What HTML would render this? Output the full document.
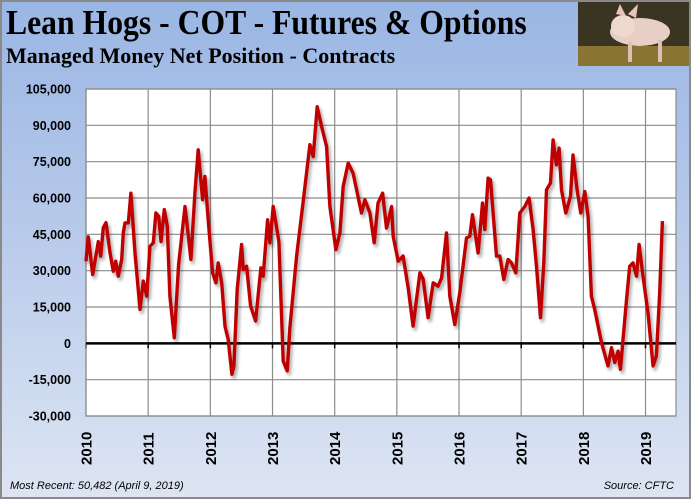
<!DOCTYPE html>
<html><head><meta charset="utf-8"><style>
html,body{margin:0;padding:0;}
body{width:691px;height:499px;overflow:hidden;font-family:"Liberation Sans",sans-serif;}
#frame{position:absolute;left:0;top:0;width:687px;height:495px;border:2px solid #8a8a8a;background:linear-gradient(#9ab6e4 0%,#b7c9ea 45%,#dde5f3 100%);}
.t{position:absolute;font-family:"Liberation Serif",serif;font-weight:bold;color:#000;white-space:nowrap;}
</style></head><body>
<div id="frame"></div>
<div class="t" style="left:6px;top:3px;font-size:35px;transform:scaleX(0.905);transform-origin:left;">Lean Hogs - COT - Futures &amp; Options</div>
<div class="t" style="left:6px;top:43px;font-size:22px;transform:scaleX(1.0);transform-origin:left;">Managed Money Net Position - Contracts</div>
<svg style="position:absolute;left:578px;top:2px" width="111" height="64">
<rect width="111" height="64" fill="#3a3522"/>
<rect y="44" width="111" height="20" fill="#8a7434"/>
<ellipse cx="62" cy="30" rx="30" ry="14" fill="#e8cfc6"/>
<ellipse cx="45" cy="24" rx="12" ry="11" fill="#efd8d0"/>
<polygon points="38,12 42,2 48,14" fill="#e6c4bb"/>
<polygon points="50,12 60,2 58,16" fill="#e6c4bb"/>
<rect x="50" y="40" width="4" height="20" fill="#dcbfb5"/><rect x="80" y="38" width="4" height="22" fill="#dcbfb5"/>
</svg>
<svg id="chart" width="691" height="499" style="position:absolute;left:0;top:0">
<defs><filter id="sh" x="-5%" y="-5%" width="110%" height="110%"><feGaussianBlur in="SourceAlpha" stdDeviation="1.5"/><feOffset dx="2" dy="3" result="b"/><feFlood flood-color="#000" flood-opacity="0.35"/><feComposite in2="b" operator="in"/><feMerge><feMergeNode/><feMergeNode in="SourceGraphic"/></feMerge></filter></defs>
</svg>
<div class="t" style="left:10px;top:480px;font-size:11px;font-style:italic;font-weight:normal;font-family:'Liberation Sans',sans-serif;">Most Recent: 50,482 (April 9, 2019)</div>
<div class="t" style="right:17px;top:480px;font-size:11px;font-style:italic;font-weight:normal;font-family:'Liberation Sans',sans-serif;">Source: CFTC</div>
<script>
const yTicks=[105000,90000,75000,60000,45000,30000,15000,0,-15000,-30000];
const yLabels=["105,000","90,000","75,000","60,000","45,000","30,000","15,000","0","-15,000","-30,000"];
const xYears=[2010,2011,2012,2013,2014,2015,2016,2017,2018,2019];
const dates=[2010,2010.037,2010.108,2010.198,2010.236,2010.278,2010.322,2010.386,2010.439,2010.477,2010.519,2010.574,2010.6,2010.627,2010.68,2010.723,2010.788,2010.868,2010.921,2010.976,
2011.029,2011.082,2011.125,2011.169,2011.206,2011.259,2011.307,2011.35,2011.42,2011.49,2011.592,2011.635,2011.688,2011.752,2011.805,2011.876,2011.913,2011.966,
2012.037,2012.09,2012.127,2012.182,2012.235,2012.288,2012.347,2012.379,2012.432,2012.503,2012.529,2012.584,2012.648,2012.728,2012.814,2012.85,2012.921,2012.958,
2013.011,2013.103,2013.172,2013.236,2013.28,2013.387,2013.494,2013.601,2013.654,2013.719,2013.789,2013.87,2013.923,
2014.019,2014.084,2014.137,2014.217,2014.297,2014.432,2014.486,2014.566,2014.635,2014.696,2014.77,2014.834,2014.915,2014.941,
2015.021,2015.101,2015.182,2015.262,2015.37,2015.423,2015.503,2015.584,2015.664,2015.719,2015.799,2015.852,2015.932,
2016.013,2016.121,2016.174,2016.217,2016.307,2016.378,2016.415,2016.468,2016.506,2016.603,2016.656,2016.72,2016.789,2016.844,2016.913,2016.977,
2017.058,2017.127,2017.191,2017.246,2017.31,2017.363,2017.407,2017.471,2017.513,2017.567,2017.609,2017.648,2017.717,2017.793,2017.834,2017.899,2017.958,
2018.023,2018.076,2018.13,2018.183,2018.291,2018.397,2018.452,2018.505,2018.558,2018.596,2018.693,2018.746,2018.799,2018.854,2018.896,2018.96,
2019.04,2019.121,2019.175,2019.228,2019.272];
const netPosition=[33900,44000,28400,42000,36000,47800,49800,37500,29800,33900,27700,34600,45600,49700,49700,62000,37300,14000,25700,19500,
40000,41500,53800,52400,42000,55200,48300,19500,2300,32500,56500,47000,34600,62000,79900,59300,68900,51000,
29100,25000,33200,25000,7100,1600,-12800,-9300,22200,40800,30500,31800,15400,9200,31200,27700,51000,41500,
56500,42000,-7300,-11400,6500,36000,58600,82000,77100,97700,89500,81200,56500,
38700,45600,64800,74400,70300,53800,59300,53800,41500,57900,62000,47600,56500,44200,
33900,36000,22900,7100,29100,26400,10600,25000,23600,27000,45600,19500,7800,
20900,43500,44200,53100,37300,57900,47000,68200,67500,36000,36000,26400,34600,33200,29100,53800,
56500,60000,47000,31800,10600,33200,63400,66200,84000,73700,80600,63400,53800,60700,77800,63400,53800,
62700,52400,19500,14000,300,-9300,-1800,-7900,-3200,-10700,17400,31800,33200,27700,40800,27700,
12600,-9300,-5200,20900,50482];
const svg=document.getElementById('chart');
const NS='http://www.w3.org/2000/svg';
const L=86,R=676,T=89,B=416,yMin=-30000,yMax=105000,x0=2010,x1=2019.49;
function sx(v){return L+(v-x0)/(x1-x0)*(R-L);}
function sy(v){return B-(v-yMin)/(yMax-yMin)*(B-T);}
function mk(tag,attrs){const e=document.createElementNS(NS,tag);for(const k in attrs)e.setAttribute(k,attrs[k]);svg.appendChild(e);return e;}
const bg=mk('rect',{x:L,y:T,width:R-L,height:B-T,fill:'#fff'});


yTicks.forEach((v,i)=>{
 if(v!==0){const g=mk('line',{x1:L,x2:R,y1:sy(v),y2:sy(v),stroke:'#8c8c8c','stroke-width':1.2});
 
 }
 const t=mk('text',{x:71,y:sy(v)+4.5,'text-anchor':'end','font-size':12.5,'font-weight':'bold','font-family':'Liberation Sans, sans-serif'});
 t.textContent=yLabels[i];
 
 
});
xYears.forEach(y=>{
 const x=sx(y);
 const g=mk('line',{x1:x,x2:x,y1:T,y2:B,stroke:'#8c8c8c','stroke-width':1.2});
 
 
 const tk=mk('line',{x1:x,x2:x,y1:sy(0),y2:sy(0)+5,stroke:'#000','stroke-width':1.5});
 
 
 const t=mk('text',{transform:`translate(${x+5.5},${B+49}) rotate(-90)`,'font-size':15,'font-weight':'bold','font-family':'Liberation Sans, sans-serif'});
 t.textContent=y;
 
 
});
const bd=mk('rect',{x:L,y:T,width:R-L,height:B-T,fill:'none',stroke:'#8c8c8c','stroke-width':1.2});


const z=mk('line',{x1:L,x2:R,y1:sy(0),y2:sy(0),stroke:'#000','stroke-width':2.5});


const p=mk('polyline',{points:dates.map((d,i)=>sx(d).toFixed(1)+','+sy(netPosition[i]).toFixed(1)).join(' '),fill:'none',stroke:'#c00000','stroke-width':3.4,'stroke-linejoin':'round',filter:'url(#sh)'});


</script>
</body></html>
